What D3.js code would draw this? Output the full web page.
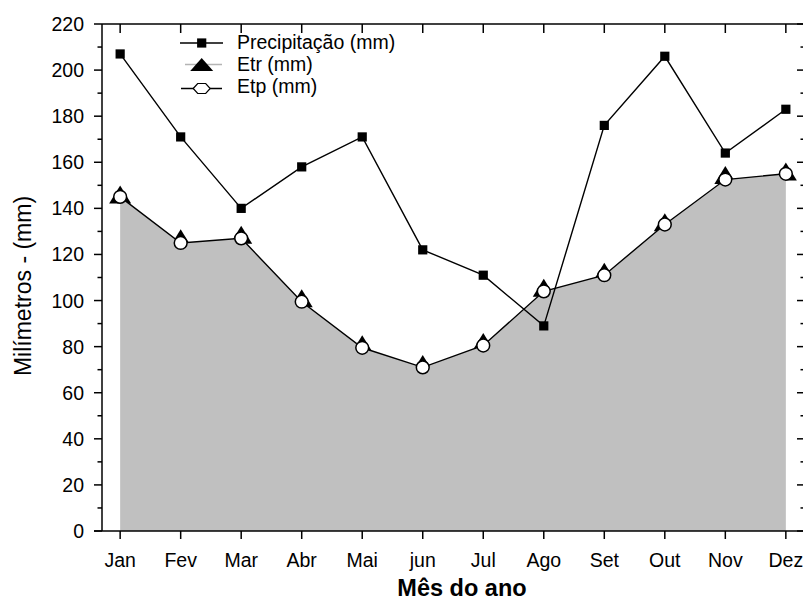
<!DOCTYPE html>
<html>
<head>
<meta charset="utf-8">
<script src="https://cdn.jsdelivr.net/npm/d3@7"></script>
<style>
  html, body { margin: 0; padding: 0; background: #fff; }
  svg { display: block; }
  text { font-family: "Liberation Sans", Arial, sans-serif; fill: #000; }
</style>
</head>
<body>
<svg id="chart" width="803" height="601"></svg>
<script>
// ---- data ----
const months = ["Jan","Fev","Mar","Abr","Mai","jun","Jul","Ago","Set","Out","Nov","Dez"];
const precipitacao = [207, 171, 140, 158, 171, 122, 111, 89, 176, 206, 164, 183];
const etr = [146, 127, 128.5, 101, 81, 72.5, 82, 105.5, 112.5, 134, 154.5, 156];
const etp = [145, 125, 127, 99.5, 79.5, 71, 80.5, 104, 111, 133, 152.5, 155];
const yTicks = [0, 20, 40, 60, 80, 100, 120, 140, 160, 180, 200, 220];
const yMinorTicks = [10, 30, 50, 70, 90, 110, 130, 150, 170, 190, 210];
const legendLabels = ["Precipitação (mm)", "Etr (mm)", "Etp (mm)"];
const xTitle = "Mês do ano";
const yTitle = "Milímetros - (mm)";

// ---- layout ----
const L = 102, R = 804, T = 24, B = 531;
const svg = d3.select("#chart");

const x = d3.scaleLinear().domain([-0.3, 11.3]).range([L, R]);
const y = d3.scaleLinear().domain([0, 220]).range([B, T]);
const idx = months.map((m, i) => i);

// Etr triangles (drawn first, partially covered by area)
function tri(cx, cy, w, h) {
  return `M${cx},${cy - h/2}L${cx + w/2},${cy + h/2}L${cx - w/2},${cy + h/2}Z`;
}
svg.append("g").selectAll("path").data(idx).join("path")
  .attr("d", i => tri(x(i), y(etr[i]), 22, 18))
  .attr("fill", "#000");

// Gray area under Etp
const area = d3.area().x(i => x(i)).y0(y(0)).y1(i => y(etp[i]));
svg.append("path").datum(idx).attr("d", area).attr("fill", "#c0c0c0");

// Etp line
const lineEtp = d3.line().x(i => x(i)).y(i => y(etp[i]));
svg.append("path").datum(idx).attr("d", lineEtp)
  .attr("fill", "none").attr("stroke", "#000").attr("stroke-width", 1.4);

// Precipitation line
const lineP = d3.line().x(i => x(i)).y(i => y(precipitacao[i]));
svg.append("path").datum(idx).attr("d", lineP)
  .attr("fill", "none").attr("stroke", "#000").attr("stroke-width", 1.4);

// Etp circles
svg.append("g").selectAll("circle").data(idx).join("circle")
  .attr("cx", i => x(i)).attr("cy", i => y(etp[i])).attr("r", 6.4)
  .attr("fill", "#fff").attr("stroke", "#000").attr("stroke-width", 1.5);

// Precip squares
const sq = 9.2;
svg.append("g").selectAll("rect").data(idx).join("rect")
  .attr("x", i => x(i) - sq/2).attr("y", i => y(precipitacao[i]) - sq/2)
  .attr("width", sq).attr("height", sq).attr("fill", "#000");

// ---- axes ----
const axisG = svg.append("g").attr("stroke", "#000").attr("stroke-width", 1.5);
axisG.append("line").attr("x1", L).attr("x2", L).attr("y1", T).attr("y2", B);
axisG.append("line").attr("x1", L - 8).attr("x2", R).attr("y1", B).attr("y2", B);
axisG.append("line").attr("x1", L).attr("x2", R).attr("y1", T).attr("y2", T);
axisG.append("line").attr("x1", R).attr("x2", R).attr("y1", T).attr("y2", B);

axisG.selectAll(".ymaj").data(yTicks).join("line")
  .attr("class", "ymaj")
  .attr("x1", L - 8).attr("x2", L).attr("y1", d => y(d)).attr("y2", d => y(d));
axisG.selectAll(".ymin").data(yMinorTicks).join("line")
  .attr("class", "ymin")
  .attr("x1", L - 4.5).attr("x2", L).attr("y1", d => y(d)).attr("y2", d => y(d));
axisG.selectAll(".ymajr").data(yTicks).join("line")
  .attr("class", "ymajr")
  .attr("x1", R - 7).attr("x2", R).attr("y1", d => y(d)).attr("y2", d => y(d));
axisG.selectAll(".yminr").data(yMinorTicks).join("line")
  .attr("class", "yminr")
  .attr("x1", R - 3.5).attr("x2", R).attr("y1", d => y(d)).attr("y2", d => y(d));

axisG.selectAll(".xb").data(idx).join("line")
  .attr("class", "xb")
  .attr("x1", i => x(i)).attr("x2", i => x(i)).attr("y1", B).attr("y2", B + 8);
axisG.selectAll(".xt").data(idx).join("line")
  .attr("class", "xt")
  .attr("x1", i => x(i)).attr("x2", i => x(i)).attr("y1", T).attr("y2", T + 9);

// tick labels
svg.append("g").selectAll("text").data(yTicks).join("text")
  .attr("x", 84).attr("y", d => y(d)).attr("dy", "0.36em")
  .attr("text-anchor", "end").attr("font-size", 19.5).text(d => d);
svg.append("g").selectAll("text").data(idx).join("text")
  .attr("x", i => x(i)).attr("y", 567)
  .attr("text-anchor", "middle").attr("font-size", 19.5).text(i => months[i]);

// titles
svg.append("text").attr("x", 462).attr("y", 596)
  .attr("text-anchor", "middle").attr("font-size", 23.5).attr("font-weight", "bold")
  .text(xTitle);
svg.append("text").attr("transform", "translate(31,286) rotate(-90)")
  .attr("text-anchor", "middle").attr("font-size", 23).text(yTitle);

// ---- legend ----
const lg = svg.append("g");
lg.append("line").attr("x1", 180).attr("x2", 223).attr("y1", 43).attr("y2", 43)
  .attr("stroke", "#000").attr("stroke-width", 1.4);
lg.append("rect").attr("x", 201.7 - sq/2).attr("y", 43 - sq/2)
  .attr("width", sq).attr("height", sq).attr("fill", "#000");
lg.append("line").attr("x1", 185).attr("x2", 222).attr("y1", 64.5).attr("y2", 64.5)
  .attr("stroke", "#b4b4b4").attr("stroke-width", 1.4);
lg.append("path").attr("d", tri(201.7, 64.5, 23, 13)).attr("fill", "#000");
lg.append("line").attr("x1", 181).attr("x2", 222).attr("y1", 88.5).attr("y2", 88.5)
  .attr("stroke", "#000").attr("stroke-width", 1.4);
const hx = 201.7, hy = 88.5;
lg.append("path")
  .attr("d", `M${hx-8.5},${hy}L${hx-4},${hy-5}L${hx+4},${hy-5}L${hx+8.5},${hy}L${hx+4},${hy+5}L${hx-4},${hy+5}Z`)
  .attr("fill", "#fff").attr("stroke", "#000").attr("stroke-width", 1.2);

lg.selectAll("text").data(legendLabels).join("text")
  .attr("x", 237).attr("y", (d, i) => 49 + i * 22)
  .attr("font-size", 19.5).text(d => d);
</script>
</body>
</html>
